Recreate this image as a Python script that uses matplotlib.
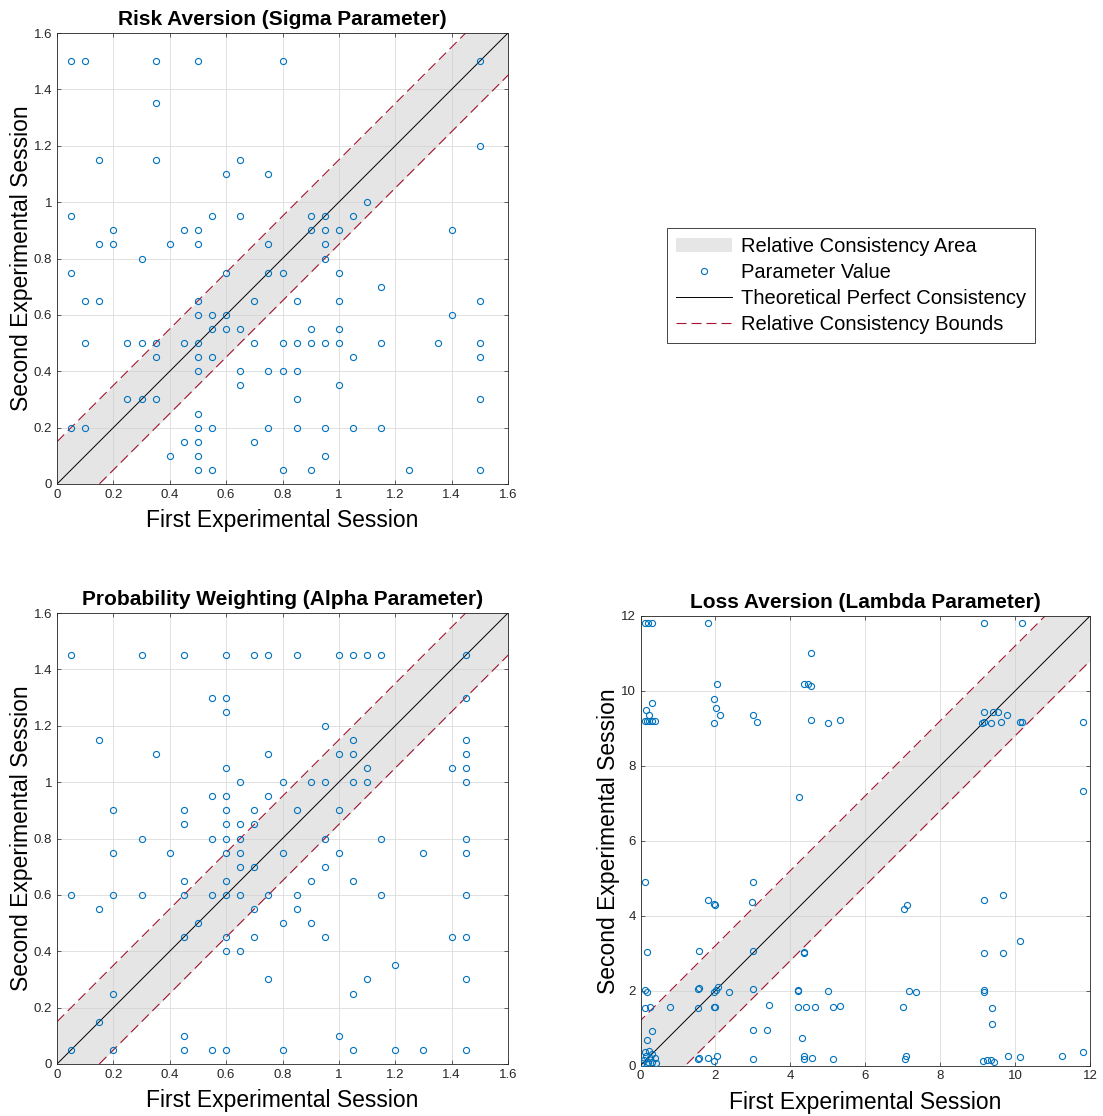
import numpy as np
import matplotlib
matplotlib.use('Agg')
import matplotlib.pyplot as plt
from matplotlib.patches import Patch
from matplotlib.lines import Line2D
from matplotlib.ticker import FormatStrFormatter

plt.rcParams['font.family'] = ['Liberation Sans', 'DejaVu Sans']

# (first session, second session) pairs
sigma_pts = [
    (0.05, 1.5), (0.10, 1.5), (0.35, 1.5), (0.50, 1.5), (0.80, 1.5), (1.50, 1.5),
    (0.35, 1.35), (1.50, 1.2),
    (0.15, 1.15), (0.35, 1.15), (0.65, 1.15),
    (0.60, 1.1), (0.75, 1.1), (1.10, 1.0),
    (0.05, 0.95), (0.55, 0.95), (0.65, 0.95), (0.90, 0.95), (0.95, 0.95), (1.05, 0.95),
    (0.20, 0.9), (0.45, 0.9), (0.50, 0.9), (0.90, 0.9), (0.95, 0.9), (1.00, 0.9), (1.40, 0.9),
    (0.15, 0.85), (0.20, 0.85), (0.40, 0.85), (0.50, 0.85), (0.75, 0.85), (0.95, 0.85),
    (0.30, 0.8), (0.95, 0.8),
    (0.05, 0.75), (0.60, 0.75), (0.75, 0.75), (0.80, 0.75), (1.00, 0.75),
    (1.15, 0.7),
    (0.10, 0.65), (0.15, 0.65), (0.50, 0.65), (0.70, 0.65), (0.85, 0.65), (1.00, 0.65), (1.50, 0.65),
    (0.50, 0.6), (0.55, 0.6), (0.60, 0.6), (1.40, 0.6),
    (0.55, 0.55), (0.60, 0.55), (0.65, 0.55), (0.90, 0.55), (1.00, 0.55),
    (0.10, 0.5), (0.25, 0.5), (0.30, 0.5), (0.35, 0.5), (0.45, 0.5), (0.50, 0.5), (0.70, 0.5),
    (0.80, 0.5), (0.85, 0.5), (0.90, 0.5), (0.95, 0.5), (1.00, 0.5), (1.15, 0.5), (1.35, 0.5), (1.50, 0.5),
    (0.35, 0.45), (0.50, 0.45), (0.55, 0.45), (1.05, 0.45), (1.50, 0.45),
    (0.50, 0.4), (0.65, 0.4), (0.75, 0.4), (0.80, 0.4), (0.85, 0.4),
    (0.65, 0.35), (1.00, 0.35),
    (0.25, 0.3), (0.30, 0.3), (0.35, 0.3), (0.85, 0.3), (1.50, 0.3),
    (0.50, 0.25),
    (0.05, 0.2), (0.10, 0.2), (0.50, 0.2), (0.55, 0.2), (0.75, 0.2), (0.85, 0.2), (0.95, 0.2), (1.05, 0.2), (1.15, 0.2),
    (0.45, 0.15), (0.50, 0.15), (0.70, 0.15),
    (0.40, 0.1), (0.50, 0.1), (0.95, 0.1),
    (0.50, 0.05), (0.55, 0.05), (0.80, 0.05), (0.90, 0.05), (1.25, 0.05), (1.50, 0.05),
]

alpha_pts = [
    (0.05, 1.45), (0.30, 1.45), (0.45, 1.45), (0.60, 1.45), (0.70, 1.45), (0.75, 1.45),
    (0.85, 1.45), (1.00, 1.45), (1.05, 1.45), (1.10, 1.45), (1.15, 1.45), (1.45, 1.45),
    (0.55, 1.3), (0.60, 1.3), (1.45, 1.3), (0.60, 1.25), (0.95, 1.2),
    (0.15, 1.15), (1.05, 1.15), (1.45, 1.15),
    (0.35, 1.1), (0.75, 1.1), (1.00, 1.1), (1.05, 1.1), (1.45, 1.1),
    (0.60, 1.05), (1.10, 1.05), (1.40, 1.05), (1.45, 1.05),
    (0.65, 1.0), (0.80, 1.0), (0.90, 1.0), (0.95, 1.0), (1.05, 1.0), (1.10, 1.0), (1.45, 1.0),
    (0.55, 0.95), (0.60, 0.95), (0.75, 0.95),
    (0.20, 0.9), (0.45, 0.9), (0.60, 0.9), (0.70, 0.9), (0.85, 0.9), (1.00, 0.9),
    (0.45, 0.85), (0.60, 0.85), (0.65, 0.85), (0.70, 0.85),
    (0.30, 0.8), (0.55, 0.8), (0.60, 0.8), (0.65, 0.8), (0.95, 0.8), (1.15, 0.8), (1.45, 0.8),
    (0.20, 0.75), (0.40, 0.75), (0.60, 0.75), (0.65, 0.75), (0.80, 0.75), (1.00, 0.75), (1.30, 0.75), (1.45, 0.75),
    (0.65, 0.7), (0.70, 0.7), (0.95, 0.7),
    (0.45, 0.65), (0.60, 0.65), (0.90, 0.65), (1.05, 0.65),
    (0.05, 0.6), (0.20, 0.6), (0.30, 0.6), (0.45, 0.6), (0.55, 0.6), (0.60, 0.6), (0.65, 0.6),
    (0.75, 0.6), (0.85, 0.6), (1.15, 0.6), (1.45, 0.6),
    (0.15, 0.55), (0.70, 0.55), (0.85, 0.55),
    (0.50, 0.5), (0.80, 0.5), (0.90, 0.5),
    (0.45, 0.45), (0.60, 0.45), (0.70, 0.45), (0.95, 0.45), (1.40, 0.45), (1.45, 0.45),
    (0.60, 0.4), (0.65, 0.4), (1.20, 0.35),
    (0.75, 0.3), (1.10, 0.3), (1.45, 0.3),
    (0.20, 0.25), (1.05, 0.25), (0.15, 0.15), (0.45, 0.1), (1.00, 0.1),
    (0.05, 0.05), (0.20, 0.05), (0.45, 0.05), (0.55, 0.05), (0.60, 0.05), (0.80, 0.05),
    (1.05, 0.05), (1.20, 0.05), (1.30, 0.05), (1.45, 0.05),
]

lambda_pts = [
    (0.12, 11.8), (0.20, 11.8), (0.30, 11.8), (1.80, 11.8), (9.18, 11.8), (10.18, 11.8),
    (4.56, 11.0),
    (2.04, 10.18), (4.36, 10.18), (4.48, 10.18), (4.56, 10.13),
    (1.97, 9.79), (0.31, 9.69), (2.02, 9.55), (0.15, 9.48),
    (9.18, 9.45), (9.42, 9.45), (9.54, 9.45),
    (0.23, 9.36), (2.13, 9.36), (3.01, 9.36), (9.78, 9.36),
    (0.12, 9.2), (0.18, 9.2), (0.24, 9.2), (0.30, 9.2), (0.40, 9.2),
    (3.11, 9.18), (1.97, 9.15), (4.56, 9.23), (5.01, 9.15), (5.33, 9.23),
    (9.12, 9.15), (9.18, 9.18), (9.35, 9.15), (9.63, 9.18), (10.12, 9.18), (10.18, 9.18), (11.8, 9.18),
    (11.8, 7.34), (4.23, 7.16),
    (0.12, 4.89), (3.00, 4.89), (1.80, 4.43), (1.97, 4.30), (1.98, 4.28), (2.97, 4.37),
    (9.18, 4.43), (9.68, 4.56), (7.03, 4.18), (7.12, 4.29),
    (10.14, 3.32),
    (0.17, 3.02), (1.56, 3.07), (3.00, 3.07), (4.36, 3.00), (4.37, 3.02), (9.18, 3.00), (9.68, 3.01),
    (0.12, 2.02), (0.17, 1.97), (1.54, 2.04), (1.55, 2.06), (1.97, 1.97), (2.02, 2.02), (2.08, 2.09),
    (2.37, 1.97), (3.00, 2.04), (4.20, 2.00), (4.21, 2.02), (5.00, 2.00), (7.16, 2.00), (7.35, 1.97),
    (9.18, 2.02), (9.18, 1.97),
    (0.12, 1.54), (0.25, 1.57), (0.78, 1.57), (1.54, 1.54), (1.97, 1.55), (1.98, 1.57), (3.42, 1.61),
    (4.20, 1.57), (4.42, 1.57), (4.67, 1.57), (5.14, 1.57), (5.33, 1.60), (7.01, 1.56), (9.38, 1.54),
    (9.38, 1.12), (0.31, 0.91), (0.17, 0.68), (3.00, 0.94), (3.38, 0.96), (4.30, 0.74),
    (0.05, 0.08), (0.10, 0.15), (0.12, 0.35), (0.15, 0.25), (0.20, 0.10), (0.22, 0.40),
    (0.25, 0.20), (0.30, 0.30), (0.32, 0.10), (0.38, 0.20), (0.42, 0.08), (0.18, 0.05),
    (1.54, 0.18), (1.55, 0.20), (1.80, 0.19), (1.97, 0.12), (2.04, 0.26), (3.01, 0.18),
    (4.36, 0.26), (4.36, 0.17), (4.57, 0.19), (5.14, 0.17),
    (7.10, 0.26), (7.05, 0.17), (9.15, 0.13), (9.25, 0.15), (9.35, 0.14), (9.45, 0.10),
    (9.81, 0.26), (10.14, 0.22), (11.24, 0.26), (11.8, 0.35),
]

titles = ['Risk Aversion (Sigma Parameter)',
          'Probability Weighting (Alpha Parameter)',
          'Loss Aversion (Lambda Parameter)']
limits = [1.6, 1.6, 12]
tick_steps = [0.2, 0.2, 2]
bounds = [0.15, 0.15, 1.2]
legend_labels = ['Relative Consistency Area', 'Parameter Value',
                 'Theoretical Perfect Consistency', 'Relative Consistency Bounds']

BLUE = '#0072BD'
RED = '#A2142F'
SHADE = '#e6e6e6'


def draw_panel(ax, pts, top, step, b, title):
    xs = [p[0] for p in pts]
    ys = [p[1] for p in pts]
    xx = np.array([-b, top + b])
    ax.fill_between(xx, xx - b, xx + b, color='#cdcdcd', alpha=0.5, lw=0, zorder=1)
    ax.plot([0, top], [0, top], color='k', lw=0.7, zorder=2)
    ax.plot(xx, xx + b, color=RED, lw=0.8, ls=(0, (9, 4.5)), zorder=2)
    ax.plot(xx, xx - b, color=RED, lw=0.8, ls=(0, (9, 4.5)), zorder=2)
    ax.plot(xs, ys, 'o', mfc='none', mec=BLUE, ms=4.4, mew=0.8, zorder=3)
    ax.set_xlim(0, top)
    ax.set_ylim(0, top)
    ticks = np.arange(0, top + step / 2, step)
    ax.set_xticks(ticks)
    ax.set_yticks(ticks)
    ax.xaxis.set_major_formatter(FormatStrFormatter('%g'))
    ax.yaxis.set_major_formatter(FormatStrFormatter('%g'))
    ax.tick_params(direction='in', length=3, width=0.5, labelsize=9.5, colors='#262626',
                   top=True, right=True)
    ax.grid(color='#dcdcdc', lw=0.6, zorder=0)
    ax.set_axisbelow(True)
    for s in ax.spines.values():
        s.set_linewidth(0.6)
        s.set_color('#262626')
    ax.set_title(title, fontsize=15, fontweight='bold', pad=6)
    ax.set_xlabel('First Experimental Session', fontsize=16.5, labelpad=6)
    ax.set_ylabel('Second Experimental Session', fontsize=16.5, labelpad=0.5)


fig = plt.figure(figsize=(11.03, 11.16), dpi=100)
W, H = 1103, 1116
boxes = [(57, 33, 451), (57, 613, 451), (640.5, 616, 449.5)]
all_pts = [sigma_pts, alpha_pts, lambda_pts]
for i in range(3):
    left, top_px, size = boxes[i]
    ax = fig.add_axes([left / W, 1 - (top_px + size) / H, size / W, size / H])
    draw_panel(ax, all_pts[i], limits[i], tick_steps[i], bounds[i], titles[i])

handles = [
    Patch(facecolor=SHADE, edgecolor='none'),
    Line2D([], [], ls='none', marker='o', mfc='none', mec=BLUE, ms=4.4, mew=0.8),
    Line2D([], [], color='k', lw=0.7),
    Line2D([], [], color=RED, lw=0.8, ls=(0, (9, 4.5))),
]
leg = fig.legend(handles, legend_labels, loc='upper left',
                 bbox_to_anchor=(667 / W, 1 - 228 / H), fontsize=14.5,
                 fancybox=False, edgecolor='#262626', framealpha=1,
                 handlelength=2.8, handletextpad=0.4, borderpad=0.45,
                 labelspacing=0.35, borderaxespad=0, numpoints=1)
leg.get_frame().set_linewidth(0.6)

fig.savefig('out.png', dpi=100)
